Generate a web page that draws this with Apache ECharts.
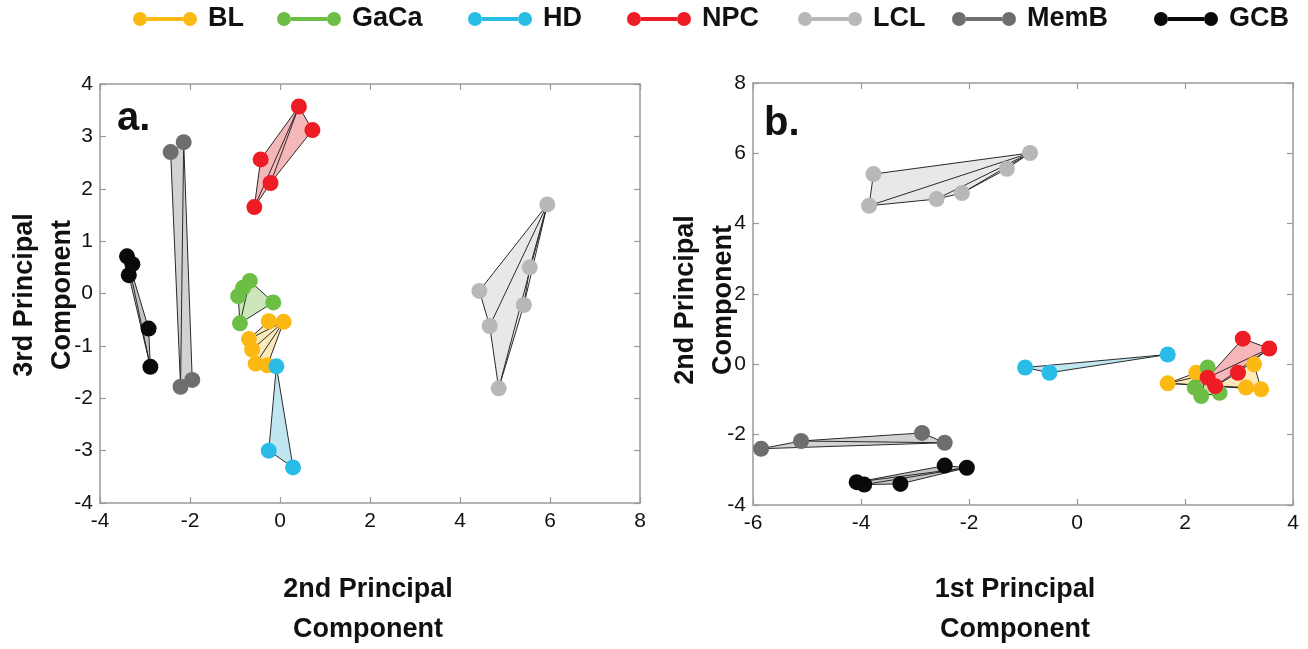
<!DOCTYPE html>
<html><head><meta charset="utf-8">
<script src="https://cdn.jsdelivr.net/npm/echarts@6/dist/echarts.min.js"></script>
<style>html,body{margin:0;padding:0;background:#fff}#c{width:1308px;height:649px}</style>
</head><body><div id="c"></div>
<script>
// Groups (legend order)
const groups = ['BL', 'GaCa', 'HD', 'NPC', 'LCL', 'MemB', 'GCB'];
const markerColors = ['#FDB913', '#6DBE45', '#29BCE6', '#EE1C25', '#B8B8B8', '#6E6E6E', '#0A0A0A'];
const fillColors = ['#FBE9B9', '#CDE6BA', '#C0E6F2', '#F5B7BA', '#E8E8E8', '#D2D2D2', '#C4C4C4'];

// Panel a: x = 2nd principal component, y = 3rd principal component (first point = hub)
const BL_a   = [[0.08, -0.54], [-0.28, -1.37], [-0.54, -1.34], [-0.62, -1.07], [-0.69, -0.87], [-0.25, -0.53]];
const GaCa_a = [[-0.67, 0.24], [-0.15, -0.17], [-0.89, -0.57], [-0.93, -0.05], [-0.82, 0.11]];
const HD_a   = [[-0.08, -1.39], [0.29, -3.32], [-0.25, -3.00]];
const NPC_a  = [[0.42, 3.57], [0.72, 3.12], [-0.21, 2.11], [-0.57, 1.65], [-0.43, 2.56]];
const LCL_a  = [[5.94, 1.70], [5.55, 0.50], [5.42, -0.22], [4.86, -1.81], [4.66, -0.62], [4.43, 0.05]];
const MemB_a = [[-2.14, 2.89], [-1.95, -1.65], [-2.21, -1.78], [-2.43, 2.70]];
const GCB_a  = [[-3.40, 0.71], [-2.92, -0.67], [-2.88, -1.40], [-3.36, 0.35], [-3.28, 0.56]];

// Panel b: x = 1st principal component, y = 2nd principal component
const BL_b   = [[1.68, -0.54], [2.21, -0.24], [3.28, 0.00], [3.41, -0.71], [3.13, -0.66]];
const GaCa_b = [[2.42, -0.09], [2.64, -0.81], [2.30, -0.90], [2.18, -0.66]];
const HD_b   = [[1.68, 0.28], [-0.96, -0.09], [-0.51, -0.24]];
const NPC_b  = [[3.56, 0.45], [2.98, -0.24], [2.56, -0.62], [2.42, -0.38], [3.07, 0.73]];
const LCL_b  = [[-0.87, 6.01], [-1.30, 5.56], [-2.13, 4.87], [-2.60, 4.70], [-3.85, 4.51], [-3.77, 5.41]];
const MemB_b = [[-2.45, -2.23], [-2.87, -1.95], [-5.11, -2.18], [-5.85, -2.40]];
const GCB_b  = [[-2.04, -2.94], [-2.45, -2.88], [-4.08, -3.35], [-3.94, -3.42], [-3.27, -3.40]];

const panelA = [BL_a, GaCa_a, HD_a, NPC_a, LCL_a, MemB_a, GCB_a];
const panelB = [BL_b, GaCa_b, HD_b, NPC_b, LCL_b, MemB_b, GCB_b];

// Axis ranges / ticks
const xTicksA = [-4, -2, 0, 2, 4, 6, 8];
const yTicksA = [-4, -3, -2, -1, 0, 1, 2, 3, 4];
const xTicksB = [-6, -4, -2, 0, 2, 4];
const yTicksB = [-4, -2, 0, 2, 4, 6, 8];

const FONT = '"Liberation Sans", Arial, Helvetica, sans-serif';
const AXIS_COLOR = '#9a9a9a';

function makeAxes(dim, gridIndex, ticks, pos, mirrorPos) {
  const base = {
    type: 'value', gridIndex: gridIndex,
    min: ticks[0], max: ticks[ticks.length - 1], interval: ticks[1] - ticks[0],
    splitLine: { show: false },
    axisLine: { show: true, onZero: false, lineStyle: { color: AXIS_COLOR, width: 1.5 } },
    axisTick: { show: true, inside: true, length: 6, lineStyle: { color: AXIS_COLOR, width: 1.2 } }
  };
  const main = Object.assign({}, base, {
    position: pos,
    axisLabel: { show: true, fontSize: 21, color: '#111', fontFamily: FONT, margin: dim === 'x' ? 8 : 7 }
  });
  const mirror = Object.assign({}, base, { position: mirrorPos, axisLabel: { show: false } });
  return [main, mirror];
}

const xAxis = [].concat(makeAxes('x', 0, xTicksA, 'bottom', 'top'), makeAxes('x', 1, xTicksB, 'bottom', 'top'));
const yAxis = [].concat(makeAxes('y', 0, yTicksA, 'left', 'right'), makeAxes('y', 1, yTicksB, 'left', 'right'));

function hullSeries(pts, axisIdx, fill, name) {
  return {
    type: 'custom', name: name, xAxisIndex: axisIdx, yAxisIndex: axisIdx,
    data: pts, silent: true, clip: false,
    renderItem: function (params, api) {
      if (params.dataIndex !== 0) return null;
      const c = pts.map(p => api.coord(p));
      const children = [{
        type: 'polygon', shape: { points: c },
        style: { fill: fill, stroke: '#2a2a2a', lineWidth: 1 }
      }];
      for (let i = 2; i < c.length - 1; i++) {
        children.push({ type: 'line', shape: { x1: c[0][0], y1: c[0][1], x2: c[i][0], y2: c[i][1] },
          style: { stroke: '#2a2a2a', lineWidth: 1 } });
      }
      return { type: 'group', children: children };
    }
  };
}

const series = [];
[[panelA, 0], [panelB, 2]].forEach(([panel, axisIdx]) => {
  panel.forEach((pts, i) => {
    series.push(hullSeries(pts, axisIdx, fillColors[i], groups[i] + '-hull-' + axisIdx));
    series.push({
      type: 'scatter', name: groups[i], xAxisIndex: axisIdx, yAxisIndex: axisIdx,
      data: pts, symbol: 'circle', symbolSize: 16,
      itemStyle: { color: markerColors[i], opacity: 1 }
    });
  });
});

const ICON = 'path://M0,7A7,7,0,1,1,14,7A7,7,0,1,1,0,7Z M50,7A7,7,0,1,1,64,7A7,7,0,1,1,50,7Z M14,5L50,5L50,9L14,9Z';
const legendLeft = [133, 277, 468, 627, 798, 952, 1154];
const legend = groups.map((g, i) => ({
  data: [{ name: g, icon: ICON }],
  left: legendLeft[i], top: 5, padding: 0,
  itemWidth: 64, itemHeight: 14, selectedMode: false,
  textStyle: { fontSize: 27, fontWeight: 'bold', fontFamily: FONT, color: '#111', padding: [0, 0, 0, 6], lineHeight: 28 }
}));

const titleFont = 'bold 27px ' + FONT;
const option = {
  animation: false,
  backgroundColor: '#fff',
  grid: [
    { left: 100, right: 668, top: 84, bottom: 146 },
    { left: 753, right: 15, top: 83, bottom: 144 }
  ],
  xAxis: xAxis,
  yAxis: yAxis,
  legend: legend,
  series: series,
  graphic: [
    { type: 'text', x: 117, y: 139, style: { text: 'a.', font: 'bold 40px ' + FONT, fill: '#111', verticalAlign: 'bottom' } },
    { type: 'text', x: 764, y: 144, style: { text: 'b.', font: 'bold 40px ' + FONT, fill: '#111', verticalAlign: 'bottom' } },
    { type: 'text', x: 368, y: 610, style: { text: '2nd Principal\nComponent', font: titleFont, fill: '#111', align: 'center', verticalAlign: 'middle', lineHeight: 40 } },
    { type: 'text', x: 1015, y: 610, style: { text: '1st Principal\nComponent', font: titleFont, fill: '#111', align: 'center', verticalAlign: 'middle', lineHeight: 40 } },
    { type: 'text', x: 44, y: 295, rotation: Math.PI / 2, style: { text: '3rd Principal\nComponent', font: titleFont, fill: '#111', align: 'center', verticalAlign: 'middle', lineHeight: 38 } },
    { type: 'text', x: 705, y: 300, rotation: Math.PI / 2, style: { text: '2nd Principal\nComponent', font: titleFont, fill: '#111', align: 'center', verticalAlign: 'middle', lineHeight: 38 } }
  ]
};

const chart = echarts.init(document.getElementById('c'), null, { renderer: 'canvas' });
chart.setOption(option);
</script>
</body></html>
